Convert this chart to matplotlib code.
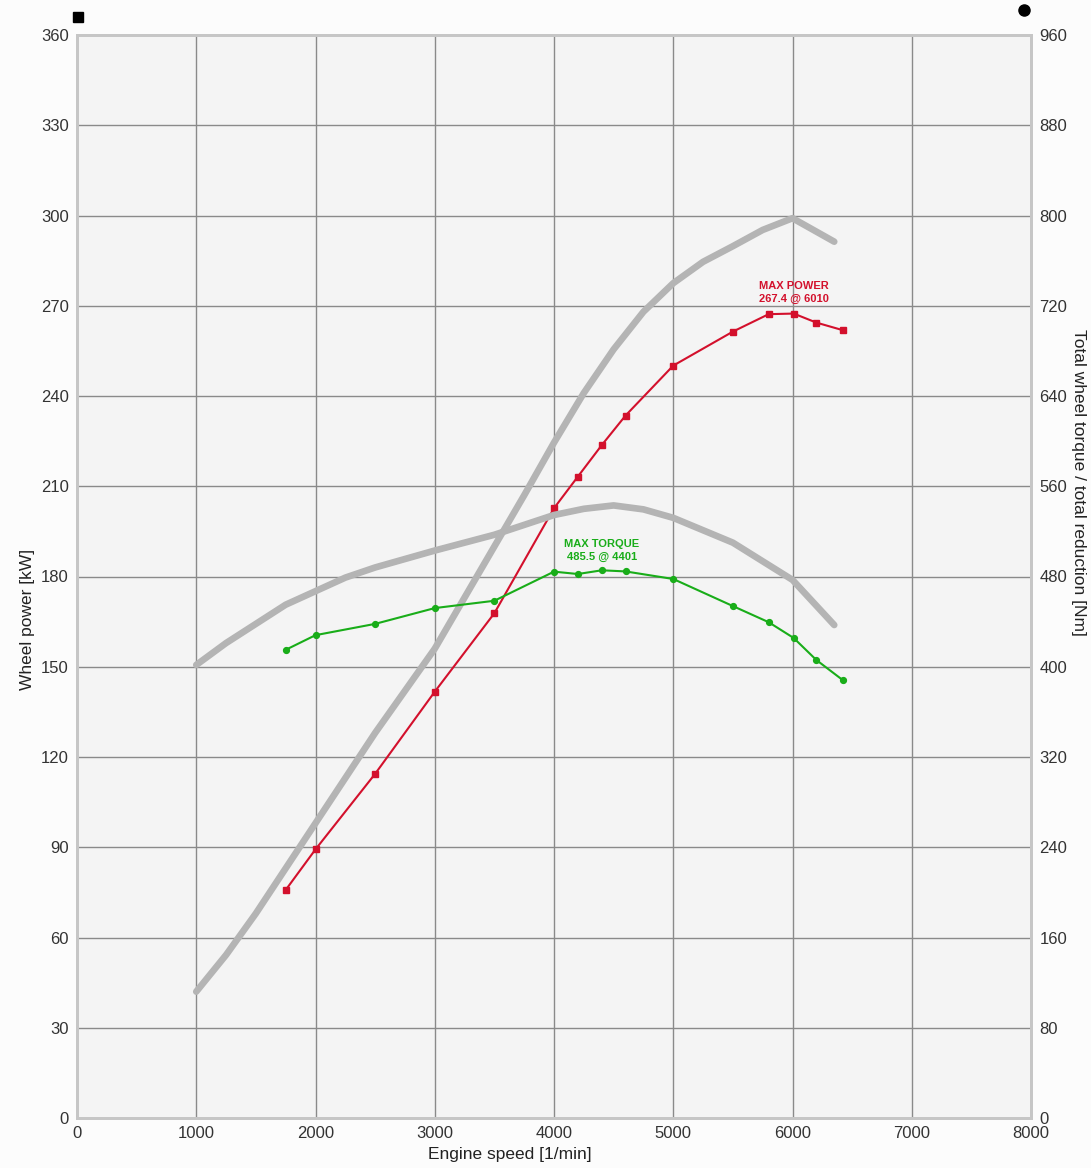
import matplotlib
matplotlib.use("Agg")
import matplotlib.pyplot as plt

plt.rcParams['font.family'] = ['Liberation Sans', 'DejaVu Sans']

# Measured run: engine speed [1/min], wheel power [kW], wheel torque [Nm]
rpm = [1750, 2000, 2500, 3000, 3500, 4000, 4200, 4401, 4600, 5000, 5500, 5800, 6010, 6200, 6420]
power_kw = [75.8, 89.3, 114.4, 141.7, 167.8, 202.7, 213.2, 223.7, 233.5, 250.1,
            261.4, 267.2, 267.4, 264.4, 261.9]
torque_nm = [415.0, 428.0, 438.0, 452.0, 458.5, 484.3, 482.2, 485.5, 484.5, 477.8,
             453.8, 439.5, 425.5, 406.0, 388.3]

# Reference (comparison) curves
ref_power_rpm = [1000, 1250, 1500, 1750, 2000, 2500, 3000, 3500, 3750, 4000, 4250, 4500,
                 4750, 5000, 5250, 5500, 5750, 6000, 6350]
ref_power_kw = [42.0, 54.2, 68.0, 83.0, 98.0, 128.0, 156.0, 190.0, 207.0, 224.5, 241.0, 255.5,
                268.0, 277.5, 284.6, 289.8, 295.2, 299.1, 291.3]
ref_torque_rpm = [1000, 1250, 1500, 1750, 2000, 2250, 2500, 3000, 3500, 4000, 4250, 4500,
                  4750, 5000, 5500, 6000, 6350]
ref_torque_nm = [401.6, 421.0, 438.0, 455.0, 467.0, 479.0, 488.0, 503.0, 517.0, 534.5, 540.0,
                 543.0, 539.5, 532.0, 510.0, 477.0, 437.0]

max_power = (6010, 267.4)
max_torque = (4401, 485.5)

x_ticks = [0, 1000, 2000, 3000, 4000, 5000, 6000, 7000, 8000]
left_ticks = list(range(0, 361, 30))
right_ticks = list(range(0, 961, 80))

RED = '#d3102c'
GREEN = '#19ad19'
GRAY = '#b4b4b4'
TXT = '#333333'

fig = plt.figure(figsize=(10.91, 11.68), dpi=100, facecolor='#fcfcfc')
ax = fig.add_axes([77 / 1091, 1 - 1118 / 1168, (1031 - 77) / 1091, (1118 - 35) / 1168])
ax.set_facecolor('#f4f4f4')
ax2 = ax.twinx()

ax.set_xlim(0, 8000)
ax.set_ylim(0, 360)
ax2.set_ylim(0, 960)
ax.set_xticks(x_ticks)
ax.set_yticks(left_ticks)
ax2.set_yticks(right_ticks)

ax.grid(True, color='#8a8a8a', linewidth=1.0)
ax.set_axisbelow(True)

for a in (ax, ax2):
    for s in a.spines.values():
        s.set_color('#c6c6c6')
        s.set_linewidth(2)
    a.tick_params(length=0, labelsize=12, labelcolor=TXT, pad=6)

# Reference curves (thick gray)
ax.plot(ref_power_rpm, ref_power_kw, color=GRAY, lw=4.8, solid_capstyle='round',
        solid_joinstyle='round', zorder=2)
ax2.plot(ref_torque_rpm, ref_torque_nm, color=GRAY, lw=4.8, solid_capstyle='round',
         solid_joinstyle='round', zorder=2)

# Measured curves
ax.plot(rpm, power_kw, color=RED, lw=1.5, marker='s', ms=4.5, zorder=4)
ax2.plot(rpm, torque_nm, color=GREEN, lw=1.5, marker='o', ms=4.2, zorder=4)

ax.annotate(f"MAX POWER\n{max_power[1]} @ {max_power[0]}", xy=max_power,
            xytext=(0, 7), textcoords='offset points', ha='center', va='bottom',
            color=RED, fontsize=8, fontweight='bold', linespacing=1.4)
ax2.annotate(f"MAX TORQUE\n{max_torque[1]} @ {max_torque[0]}", xy=max_torque,
             xytext=(0, 6), textcoords='offset points', ha='center', va='bottom',
             color=GREEN, fontsize=8, fontweight='bold', linespacing=1.4)

ax.set_xlabel("Engine speed [1/min]", fontsize=12.5, color='#222222')
ax.xaxis.set_label_coords(0.454, -0.027)
ax.set_ylabel("Wheel power [kW]", fontsize=12.5, color='#222222', va='center')
ax.yaxis.set_label_coords(-0.052, 0.46)
ax2.set_ylabel("Total wheel torque / total reduction [Nm]", fontsize=12.5,
               color='#222222', rotation=270, va='center')
ax2.yaxis.set_label_coords(1.05, 0.587)

# Axis identifiers above the plot
ax.plot([0.001], [1.0166], marker='s', ms=7, color='black', transform=ax.transAxes, clip_on=False)
ax.plot([0.9927], [1.0231], marker='o', ms=8, color='black', transform=ax.transAxes, clip_on=False)

fig.savefig("out.png", dpi=100, facecolor=fig.get_facecolor())
